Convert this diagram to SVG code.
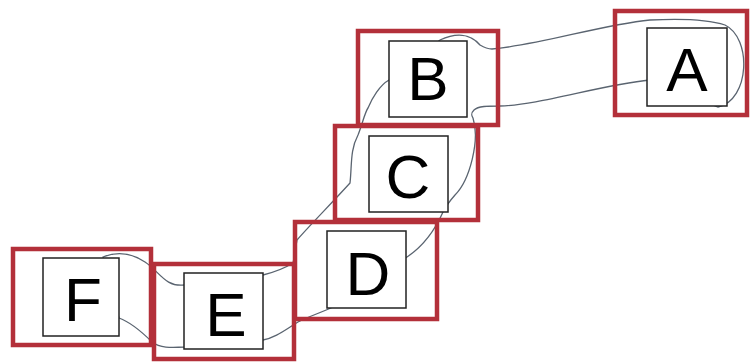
<svg xmlns="http://www.w3.org/2000/svg" width="750" height="362" viewBox="0 0 750 362">
<style>
.red{fill:none;stroke:#b3303a;stroke-width:4.5}
.box{fill:#fff;stroke:#222;stroke-width:1.5}
.lbl{font-family:"Liberation Sans",Arial,sans-serif;font-size:62px;fill:#000;text-anchor:middle}
.loop{fill:none;stroke:#5a6470;stroke-width:1.3}
</style>
<rect width="750" height="362" fill="#fff"/>
<g id="connectors">
<path class="loop" d="M440,40 C455,33 470,33 480,45 C485,48 488,49 492,49 C540,45 600,25 650,20 C690,18 710,20 725,25 C752,38 750,100 718,107 L650,80 C600,85 540,105 500,106 C488,106 478,106 474,110 C470,114 472,116 473,118 C480,140 470,180 455,195 C448,203 445,208 443,212 C435,230 425,245 407,257 L333,307 C320,313 305,318 298,322 C285,330 275,338 263,340 L185,347 C170,348 160,348 152,342 C140,330 130,322 119,318 L103,257 C115,252 130,252 145,262 C160,272 165,287 184,285 L263,275 C275,272 285,268 293,263 C295,255 296,245 297,240 C310,225 330,205 350,183 C352,165 350,150 358,135 C362,125 365,112 368,108 C372,98 380,85 389,80 Z"/>
</g>
<g id="A">
<rect class="box" x="647" y="28" width="80" height="78"/>
<text class="lbl" x="687" y="91">A</text>
<rect class="red" x="615" y="11" width="132" height="104"/>
</g>
<g id="B">
<rect class="box" x="389" y="41" width="78" height="76"/>
<text class="lbl" x="428" y="100">B</text>
<rect class="red" x="358" y="31" width="140" height="94"/>
</g>
<g id="C">
<rect class="box" x="369" y="136" width="79" height="76"/>
<text class="lbl" x="408" y="198">C</text>
<rect class="red" x="335" y="126" width="143" height="94"/>
</g>
<g id="D">
<rect class="box" x="327" y="231" width="79" height="77"/>
<text class="lbl" x="368" y="295">D</text>
<rect class="red" x="295" y="222" width="142" height="97"/>
</g>
<g id="E">
<rect class="box" x="184" y="273" width="79" height="76"/>
<text class="lbl" x="226" y="336">E</text>
<rect class="red" x="154" y="264" width="140" height="95"/>
</g>
<g id="F">
<rect class="box" x="43" y="258" width="76" height="78"/>
<text class="lbl" x="83" y="321">F</text>
<rect class="red" x="13" y="249" width="138" height="96"/>
</g>
</svg>
